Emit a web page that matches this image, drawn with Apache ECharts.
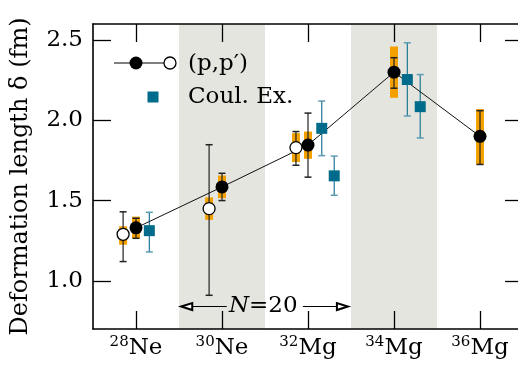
<!DOCTYPE html>
<html>
<head>
<meta charset="utf-8">
<script src="https://cdn.jsdelivr.net/npm/echarts@6/dist/echarts.min.js"></script>
<style>
html, body { margin: 0; padding: 0; background: #fff; }
#chart { width: 518px; height: 375px; }
</style>
</head>
<body>
<div id="chart"></div>
<script>
// isotopes along the x axis
const massNumbers = ['28', '30', '32', '34', '36'];
const elements = ['Ne', 'Ne', 'Mg', 'Mg', 'Mg'];
const yTicks = [1.0, 1.5, 2.0, 2.5];

// (p,p') filled points (x = isotope index)
const ppX = [0, 1, 2, 3, 4];
const ppY = [1.33, 1.585, 1.846, 2.30, 1.90];
const ppErrLo = [1.265, 1.50, 1.646, 2.20, 1.725];
const ppErrHi = [1.39, 1.67, 2.045, 2.39, 2.06];
const ppSysLo = [1.265, 1.515, 1.76, 2.14, 1.725];
const ppSysHi = [1.40, 1.656, 1.93, 2.46, 2.07];

// (p,p') open points
const ppOpenX = [-0.15, 0.85, 1.86];
const ppOpenY = [1.29, 1.45, 1.83];
const ppOpenErrLo = [1.12, 0.91, 1.72];
const ppOpenErrHi = [1.43, 1.848, 1.93];
const ppOpenSysLo = [1.225, 1.38, 1.74];
const ppOpenSysHi = [1.34, 1.52, 1.92];

// Coulomb excitation
const coulX = [0.155, 2.16, 2.305, 3.155, 3.305];
const coulY = [1.3125, 1.95, 1.654, 2.254, 2.085];
const coulErrLo = [1.18, 1.78, 1.533, 2.027, 1.89];
const coulErrHi = [1.427, 2.12, 1.777, 2.483, 2.285];

// N=20 shaded columns and arrow annotation
const shellBands = [[0.5, 1.5], [2.5, 3.5]];
const arrowY = 0.84;
const arrowLeft = [1.055, 0.59];
const arrowRight = [1.94, 2.40];
const arrowLabelX = 1.48;

const FONT = 'DejaVu Serif';
const ORANGE = '#f4a100';
const TEAL = '#006b8a';

function zip3(xs, a, b) {
  return xs.map((x, i) => [x, a[i], b[i]]);
}

function errorBar(color, capColor, width) {
  return function (params, api) {
    const x = api.value(0);
    const lo = api.coord([x, api.value(1)]);
    const hi = api.coord([x, api.value(2)]);
    const hw = 3.5;
    const capStyle = { stroke: capColor, lineWidth: 1.5 };
    return {
      type: 'group',
      children: [
        { type: 'line', shape: { x1: lo[0], y1: lo[1], x2: hi[0], y2: hi[1] }, style: { stroke: color, lineWidth: width } },
        { type: 'line', shape: { x1: lo[0] - hw, y1: lo[1], x2: lo[0] + hw, y2: lo[1] }, style: capStyle },
        { type: 'line', shape: { x1: hi[0] - hw, y1: hi[1], x2: hi[0] + hw, y2: hi[1] }, style: capStyle }
      ]
    };
  };
}

function sysBar(params, api) {
  const x = api.value(0);
  const lo = api.coord([x, api.value(1)]);
  const hi = api.coord([x, api.value(2)]);
  return {
    type: 'rect',
    shape: { x: lo[0] - 4, y: hi[1], width: 8, height: lo[1] - hi[1] },
    style: { fill: ORANGE }
  };
}

const axisLine = { show: true, onZero: false, lineStyle: { color: '#000', width: 1.6 } };
const tickStyle = { color: '#000', width: 1.3 };

const chart = echarts.init(document.getElementById('chart'), null, { renderer: 'canvas' });

const option = {
  animation: false,
  backgroundColor: '#fff',
  grid: { left: 93, right: -5, top: 24, bottom: 46, containLabel: false, outerBoundsMode: 'none' },
  xAxis: [
    {
      type: 'category',
      data: massNumbers.map((m, i) => m + '|' + elements[i]),
      position: 'bottom',
      boundaryGap: true,
      z: 10,
      axisLine: axisLine,
      axisTick: { show: true, inside: true, length: 18, alignWithLabel: true, lineStyle: tickStyle },
      axisLabel: {
        margin: 6,
        interval: 0,
        formatter: function (v) {
          const p = v.split('|');
          return '{s|' + p[0] + '}{n|' + p[1] + '}';
        },
        rich: {
          s: { fontFamily: FONT, fontSize: 15, color: '#000', verticalAlign: 'top', lineHeight: 15 },
          n: { fontFamily: FONT, fontSize: 23, color: '#000', lineHeight: 27 }
        }
      },
      splitLine: { show: false }
    },
    {
      type: 'category',
      data: massNumbers,
      position: 'top',
      boundaryGap: true,
      z: 10,
      axisLine: axisLine,
      axisTick: { show: true, inside: true, length: 18, alignWithLabel: true, lineStyle: tickStyle },
      axisLabel: { show: false },
      splitLine: { show: false }
    },
    {
      type: 'value',
      min: -0.5,
      max: 4.5,
      show: false,
      splitLine: { show: false }
    }
  ],
  yAxis: [
    {
      type: 'value',
      min: 0.7,
      max: 2.6,
      position: 'left',
      z: 10,
      name: 'Deformation length \u03b4 (fm)',
      nameLocation: 'middle',
      nameGap: 60,
      nameTextStyle: { fontFamily: FONT, fontSize: 24, color: '#000' },
      axisLine: axisLine,
      axisTick: { show: true, inside: true, length: 18, customValues: yTicks, lineStyle: tickStyle },
      axisLabel: {
        customValues: yTicks,
        margin: 10,
        formatter: v => v.toFixed(1),
        fontFamily: FONT,
        fontSize: 23,
        color: '#000'
      },
      splitLine: { show: false }
    },
    {
      type: 'value',
      min: 0.7,
      max: 2.6,
      position: 'right',
      z: 10,
      axisLine: axisLine,
      axisTick: { show: true, inside: true, length: 18, customValues: yTicks, lineStyle: tickStyle },
      axisLabel: { show: false },
      splitLine: { show: false }
    }
  ],
  graphic: [
    { type: 'line', z: 100, shape: { x1: 114, y1: 63, x2: 164, y2: 63 }, style: { stroke: '#000', lineWidth: 1 } },
    { type: 'circle', z: 100, shape: { cx: 136, cy: 63, r: 6.5 }, style: { fill: '#000' } },
    { type: 'circle', z: 100, shape: { cx: 170, cy: 63, r: 6 }, style: { fill: '#fff', stroke: '#000', lineWidth: 1.3 } },
    { type: 'text', z: 100, x: 188, y: 64, style: { text: '(p,p\u2032)', fontFamily: FONT, fontSize: 23, fill: '#000', verticalAlign: 'middle' } },
    { type: 'rect', z: 100, shape: { x: 147.5, y: 91.5, width: 11, height: 11 }, style: { fill: TEAL } },
    { type: 'text', z: 100, x: 188, y: 97, style: { text: 'Coul. Ex.', fontFamily: FONT, fontSize: 23, fill: '#000', verticalAlign: 'middle' } }
  ],
  series: [
    {
      // shaded N=20 columns and the arrow annotation
      type: 'line',
      xAxisIndex: 2,
      yAxisIndex: 0,
      data: [],
      z: 1,
      markArea: {
        silent: true,
        itemStyle: { color: '#e4e5de' },
        data: shellBands.map(b => [{ xAxis: b[0] }, { xAxis: b[1] }])
      },
      markLine: {
        silent: true,
        symbol: ['none', 'emptyTriangle'],
        symbolSize: [7, 11],
        lineStyle: { color: '#000', width: 1, type: 'solid' },
        label: { show: false },
        data: [
          [{ coord: [arrowLeft[0], arrowY] }, { coord: [arrowLeft[1], arrowY] }],
          [{ coord: [arrowRight[0], arrowY] }, { coord: [arrowRight[1], arrowY] }]
        ]
      },
      markPoint: {
        silent: true,
        symbol: 'circle',
        symbolSize: 0,
        data: [{ coord: [arrowLabelX, arrowY] }],
        label: {
          show: true,
          position: 'inside',
          formatter: '{i|N}{r|=20}',
          rich: {
            i: { fontFamily: FONT, fontStyle: 'italic', fontSize: 23, color: '#000' },
            r: { fontFamily: FONT, fontSize: 23, color: '#000' }
          }
        }
      }
    },
    {
      type: 'custom',
      xAxisIndex: 2,
      z: 2,
      renderItem: sysBar,
      data: zip3(ppX, ppSysLo, ppSysHi).concat(zip3(ppOpenX, ppOpenSysLo, ppOpenSysHi))
    },
    {
      type: 'custom',
      xAxisIndex: 2,
      z: 3,
      renderItem: errorBar('#222', '#222', 1.2),
      data: zip3(ppX, ppErrLo, ppErrHi).concat(zip3(ppOpenX, ppOpenErrLo, ppOpenErrHi))
    },
    {
      type: 'custom',
      xAxisIndex: 2,
      z: 3,
      renderItem: errorBar('#1f7896', '#5c9cb3', 1.2),
      data: zip3(coulX, coulErrLo, coulErrHi)
    },
    {
      name: '(p,p\u2032)',
      type: 'line',
      xAxisIndex: 2,
      z: 4,
      symbol: 'circle',
      symbolSize: 13,
      itemStyle: { color: '#000' },
      lineStyle: { color: '#111', width: 1 },
      data: ppX.map((x, i) => [x, ppY[i]])
    },
    {
      type: 'scatter',
      xAxisIndex: 2,
      z: 5,
      symbol: 'circle',
      symbolSize: 12,
      itemStyle: { color: '#fff', borderColor: '#000', borderWidth: 1.3, opacity: 1 },
      data: ppOpenX.map((x, i) => [x, ppOpenY[i]])
    },
    {
      name: 'Coul. Ex.',
      type: 'scatter',
      xAxisIndex: 2,
      z: 5,
      symbol: 'rect',
      symbolSize: 11,
      itemStyle: { color: TEAL, opacity: 1 },
      data: coulX.map((x, i) => [x, coulY[i]])
    }
  ]
};

chart.setOption(option);
</script>
</body>
</html>
